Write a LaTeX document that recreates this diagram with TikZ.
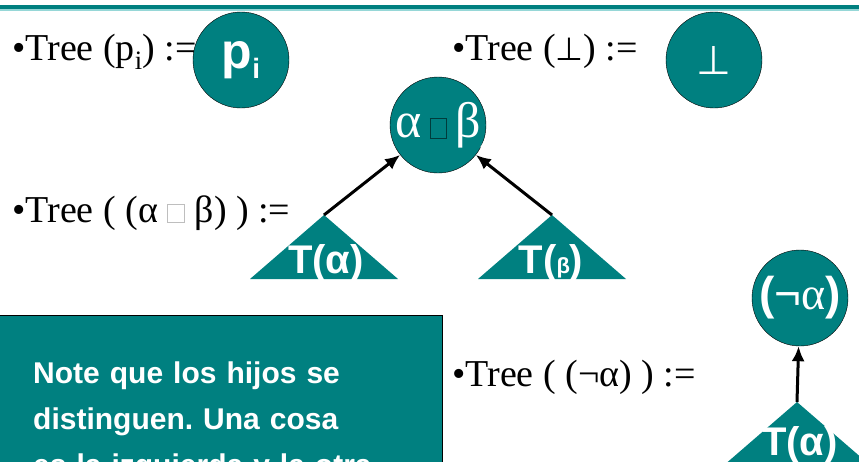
\documentclass[tikz,border=0pt]{standalone}
\usepackage{fontspec}
\setmainfont{Liberation Serif}
\setsansfont{Liberation Sans}
\newfontfamily\symfont{DejaVu Sans}
\usetikzlibrary{arrows,arrows.meta,positioning}
\definecolor{slideteal}{RGB}{0,128,128}
\definecolor{rulecyan}{RGB}{150,215,215}
\definecolor{boxgrey}{RGB}{190,190,190}
\definecolor{boxdark}{RGB}{0,60,60}
% empty glyph box, as the slide shows for a missing symbol
\newcommand{\glyphbox}[4]{{\fboxsep=0pt\fboxrule=0.9pt\fcolorbox{#1}{#2}{\rule{0pt}{#4}\hspace{#3}}}}

\begin{document}
\frenchspacing
\begin{tikzpicture}[
    x=1pt, y=-1pt,
    >={Latex[length=15pt,width=13pt]},
    treenode/.style={
		circle,
		draw=black,
		fill=slideteal,
		minimum size=96pt,
		inner sep=0pt,
		text=white,
		font=\bfseries\sffamily\fontsize{46}{46}\selectfont
	},
	tree/.style={
		anchor=base west,
		inner sep=0pt,
		font=\fontsize{38}{44}\selectfont
	},
	subtree/.style={
		anchor=base,
		inner sep=0pt,
		text=white,
		font=\bfseries\sffamily\fontsize{40}{40}\selectfont
	},
	edge/.style={
		->,
		line width=3pt
	}
  ]
  \useasboundingbox (0,0) rectangle (859,461);
  \clip (0,0) rectangle (859,461);

  % rule at the top of the slide
  \fill [slideteal] (0,5) rectangle (859,9);
  \fill [rulecyan] (0,9) rectangle (859,10.5);

  % atoms
  \node [tree] (treeP) at (12,60) {\textbullet Tree (p\textsubscript{i}) :=};
  \node [treenode, font=\bfseries\sffamily\fontsize{50}{50}\selectfont] (leafP) at (241,60)
 {\makebox[0pt]{p\raisebox{-10pt}{\fontsize{28}{28}\selectfont i}}};

  \node [tree] (treeBot) at (452,60)
 {\textbullet Tree ({\symfont\mdseries\fontsize{32}{32}\selectfont ⊥}) :=};
  \node [treenode, font=\symfont\fontsize{40}{40}\selectfont] (leafBot) at (714,60) {⊥};

  % binary connective
  \node [tree] (treeBin) at (12,222)
 {\textbullet Tree ( (α \glyphbox{boxgrey}{white}{0.42em}{0.46em} β) ) :=};
  \node [treenode, font=\bfseries\sffamily\fontsize{50}{50}\selectfont] (root) at (438,125)
 {\makebox[0pt]{({\rmfamily\mdseries α}\,\glyphbox{boxdark}{slideteal}{0.3em}{0.38em}\,{\rmfamily\mdseries β})}};

  \coordinate (apexA) at (324,215);
  \coordinate (apexB) at (552,215);
  \fill [slideteal] (apexA) -- ++(-74,64) -- ++(148,0) -- cycle;
  \fill [slideteal] (apexB) -- ++(-74,64) -- ++(148,0) -- cycle;
  \node [subtree] (subA) at (326,273) {T(α)};
  \node [subtree] (subB) at (551,273) {T({\fontsize{22}{22}\selectfont β})};

  \draw [edge] (apexA) -- (root);
  \draw [edge] (apexB) -- (root);

  % negation
  \node [tree] (treeNeg) at (452,386) {\textbullet Tree ( (¬α) ) :=};
  \node [treenode] (neg) at (800,298)
 {\makebox[0pt]{({\mdseries ¬}{\rmfamily\mdseries α})}};

  \coordinate (apexN) at (797,402);
  \fill [slideteal] (apexN) -- ++(-74,64) -- ++(148,0) -- cycle;
  \node [subtree] (subN) at (800,455) {T(α)};
  \draw [edge] (apexN) -- (neg);

  % note box
  \node [draw=black, fill=slideteal, anchor=north west, minimum width=444pt,
         minimum height=170pt] (note) at (-2,315) {};
  \node [anchor=base west, inner sep=0pt, text width=420pt, align=left, text=white,
         font=\bfseries\sffamily\fontsize{30}{46}\selectfont] (noteText) at (33,383)
 {Note que los hijos se\\distinguen. Una cosa\\es la izquierda y la otra};

\end{tikzpicture}
\end{document}
